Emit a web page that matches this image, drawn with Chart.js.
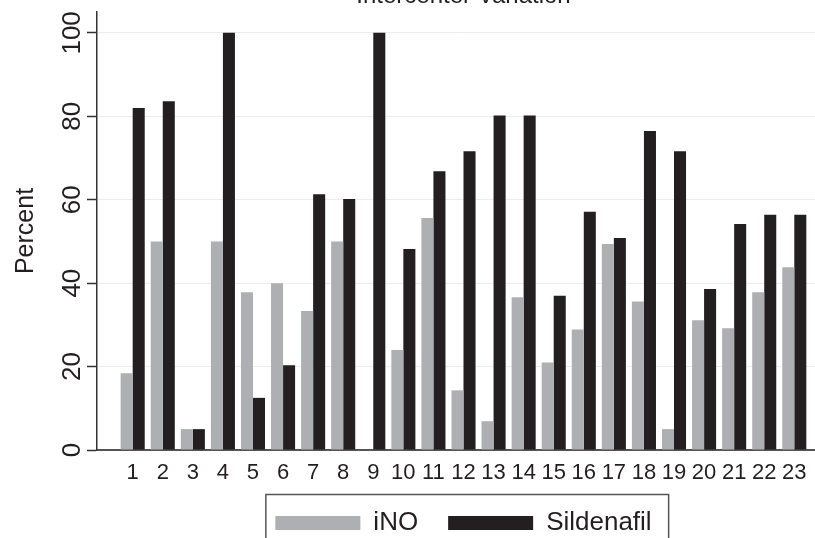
<!DOCTYPE html>
<html>
<head>
<meta charset="utf-8">
<script src="https://cdn.jsdelivr.net/npm/chart.js@4/dist/chart.umd.min.js"></script>
<style>
  html, body { margin: 0; padding: 0; background: #fff; overflow: hidden; width: 815px; height: 538px; }
  #wrap { position: relative; width: 815px; height: 538px; overflow: hidden; }
  #c { position: absolute; left: 0; top: -30px; }
</style>
</head>
<body>
<div id="wrap"><canvas id="c" width="840" height="576"></canvas></div>
<script>
// Centre numbers along the x axis
const centers = ['1','2','3','4','5','6','7','8','9','10','11','12','13','14','15','16','17','18','19','20','21','22','23'];

// Percent of patients per centre
const inoPct = [18.4, 50, 5, 50, 37.8, 40, 33.3, 50, 0, 24, 55.6, 14.3, 6.9, 36.6, 21, 28.9, 49.4, 35.6, 5, 31.1, 29.2, 37.8, 43.8];
const sildenafilPct = [82, 83.6, 5, 100, 12.5, 20.3, 61.3, 60.2, 100, 48.2, 66.8, 71.6, 80.2, 80.2, 37, 57.1, 50.8, 76.5, 71.6, 38.6, 54.2, 56.4, 56.4];

// Labelled values on the y axis
const yTickValues = [0, 20, 40, 60, 80, 100];

const FONT = "'Liberation Sans', Arial, Helvetica, sans-serif";
const INK = '#231f20';

// Y tick labels, turned to read upwards beside the axis
const rotatedYLabels = {
  id: 'rotatedYLabels',
  afterDraw(chart) {
    const y = chart.scales.y;
    const ctx = chart.ctx;
    ctx.save();
    ctx.fillStyle = INK;
    ctx.font = '26px ' + FONT;
    ctx.textAlign = 'center';
    ctx.textBaseline = 'alphabetic';
    yTickValues.forEach(v => {
      const py = y.getPixelForValue(v);
      ctx.save();
      ctx.translate(chart.chartArea.left - 17, py);
      ctx.rotate(-Math.PI / 2);
      ctx.fillText(String(v), 0, 0);
      ctx.restore();
    });
    ctx.restore();
  }
};

// Frame around the legend entries
const legendFrame = {
  id: 'legendFrame',
  afterDraw(chart) {
    const boxes = chart.legend && chart.legend.legendHitBoxes;
    if (!boxes || !boxes.length) return;
    const first = boxes[0];
    const last = boxes[boxes.length - 1];
    const left = first.left - 9.5;
    const right = last.left + last.width + 17;
    const top = first.top - 15.5;
    const ctx = chart.ctx;
    ctx.save();
    ctx.strokeStyle = '#555';
    ctx.lineWidth = 1.5;
    ctx.strokeRect(left, top, right - left, 200);
    ctx.restore();
  }
};

const toPoints = vals => centers.map((c, i) => ({ x: Number(c), y: vals[i] }));

new Chart(document.getElementById('c'), {
  type: 'bar',
  data: {
    datasets: [
      { label: 'iNO', data: toPoints(inoPct), backgroundColor: '#aeafb3', borderWidth: 0 },
      { label: 'Sildenafil', data: toPoints(sildenafilPct), backgroundColor: '#231f20', borderWidth: 0 }
    ]
  },
  options: {
    responsive: false,
    animation: false,
    devicePixelRatio: 1,
    layout: { padding: { left: 0, right: 10, top: 0, bottom: 0 } },
    datasets: { bar: { barPercentage: 1.0, categoryPercentage: 0.8 } },
    plugins: {
      title: {
        display: true,
        text: 'Intercenter Variation',
        fullSize: false,
        color: INK,
        font: { family: FONT, size: 24, weight: 'normal' },
        padding: { top: 11.8, bottom: 1.4 }
      },
      legend: {
        position: 'bottom',
        fullSize: false,
        labels: {
          boxWidth: 85,
          boxHeight: 14,
          padding: 30,
          color: INK,
          font: { family: FONT, size: 26 }
        }
      },
      tooltip: { enabled: false }
    },
    scales: {
      x: {
        type: 'linear',
        min: -0.187,
        max: 24.187,
        offset: false,
        grid: { display: false },
        border: { display: true, color: '#555', width: 2 },
        afterBuildTicks: s => { s.ticks = centers.map(c => ({ value: Number(c) })); },
        afterFit: s => { s.height = 30; },
        ticks: {
          autoSkip: false,
          maxRotation: 0,
          minRotation: 0,
          padding: 2,
          color: INK,
          font: { family: FONT, size: 22 },
          callback: v => centers[centers.indexOf(String(v))]
        }
      },
      y: {
        min: 0,
        max: 105,
        afterFit: s => { s.width = 97; },
        ticks: { stepSize: 20, includeBounds: false, display: false },
        grid: {
          color: c => (c.tick && c.tick.value === 0) ? 'rgba(0,0,0,0)' : '#ececec',
          lineWidth: 1,
          drawTicks: true,
          tickLength: 10,
          tickColor: '#333',
          tickWidth: 1.5
        },
        border: { display: true, color: '#333', width: 1.5 },
        title: {
          display: true,
          text: 'Percent',
          color: INK,
          font: { family: FONT, size: 25 },
          padding: { top: 11, bottom: 0 }
        }
      }
    }
  },
  plugins: [rotatedYLabels, legendFrame]
});
</script>
</body>
</html>
